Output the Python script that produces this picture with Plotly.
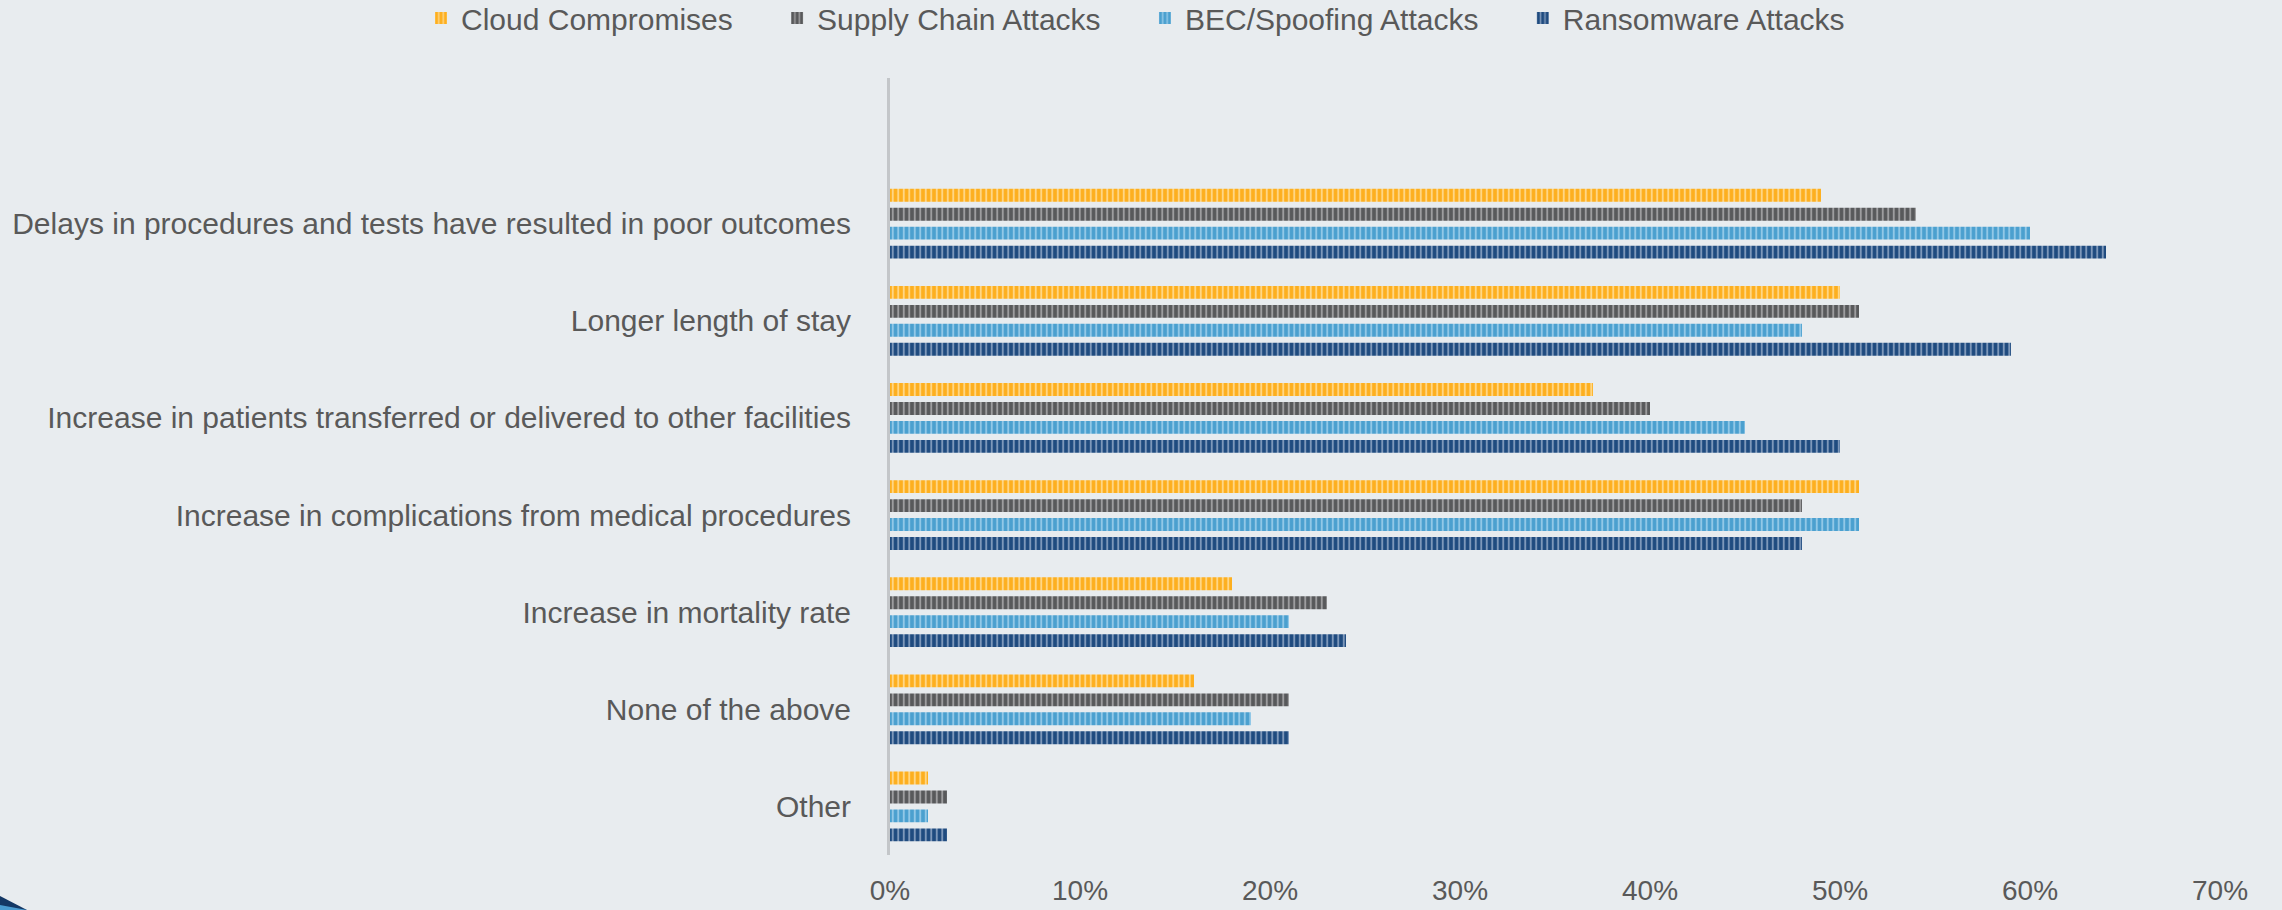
import plotly.graph_objects as go

categories = [
    "Delays in procedures and tests have resulted in poor outcomes",
    "Longer length of stay",
    "Increase in patients transferred or delivered to other facilities",
    "Increase in complications from medical procedures",
    "Increase in mortality rate",
    "None of the above",
    "Other",
]
cloud = [49, 50, 37, 51, 18, 16, 2]
supply = [54, 51, 40, 48, 23, 21, 3]
bec = [60, 48, 45, 51, 21, 19, 2]
ransom = [64, 59, 50, 48, 24, 21, 3]

x_ticks = [0, 10, 20, 30, 40, 50, 60, 70]
x_tick_labels = ["0%", "10%", "20%", "30%", "40%", "50%", "60%", "70%"]

W, H = 2282, 910
ML, MR, MT, MB = 890, 62, 78, 55

PAD = "\u00a0\u00a0\u00a0\u00a0\u2009"  # extra spacing between legend entries

series = [
    ("Ransomware Attacks", ransom, "#1F4B7F", "#7E98BA"),
    ("BEC/Spoofing Attacks", bec, "#4BA0CF", "#92C8E7"),
    ("Supply Chain Attacks", supply, "#58595B", "#9D9D9F"),
    ("Cloud Compromises", cloud, "#FDAF1F", "#FFD685"),
]

fig = go.Figure()
for name, vals, bg, fg in series:
    fig.add_trace(go.Bar(
        y=categories, x=vals, name=name + PAD, orientation="h",
        marker=dict(
            color=bg, line=dict(width=0),
            pattern=dict(shape="|", size=5.5, solidity=0.35,
                         fgcolor=fg, bgcolor=bg, fillmode="replace"),
        ),
    ))

font_col = "#595959"
bgc = "#E8ECEF"

def px(x):
    return (x - ML) / (W - ML - MR)
def py(y):
    return (H - MB - y) / (H - MT - MB)

# small decorative corner swoosh (bottom-left)
shapes = [
    dict(type="path", xref="paper", yref="paper",
         path=f"M {px(0)},{py(896)} L {px(27)},{py(910)} L {px(0)},{py(910)} Z",
         fillcolor="#143865", line=dict(width=0), layer="above"),
    dict(type="path", xref="paper", yref="paper",
         path=f"M {px(0)},{py(905)} L {px(27)},{py(910)} L {px(0)},{py(910)} Z",
         fillcolor="#4A9BD0", line=dict(width=0), layer="above"),
]

fig.update_layout(
    width=W, height=H,
    margin=dict(l=ML, r=MR, t=MT, b=MB, pad=0, autoexpand=False),
    paper_bgcolor=bgc, plot_bgcolor=bgc,
    barmode="group", bargap=0.22, bargroupgap=0.32,
    font=dict(family="Liberation Sans, Arial, sans-serif", size=30, color=font_col),
    showlegend=True,
    legend=dict(orientation="h", traceorder="reversed",
                xref="paper", yref="paper",
                x=px(421), xanchor="left", y=py(-8), yanchor="top",
                font=dict(size=30, color=font_col),
                itemwidth=30, bgcolor="rgba(0,0,0,0)"),
    shapes=shapes,
    xaxis=dict(range=[0, 70], tickvals=x_ticks, ticktext=x_tick_labels,
               showgrid=False, zeroline=False, showline=False,
               ticks="", ticklabelstandoff=16, automargin=False,
               tickfont=dict(size=28, color=font_col), fixedrange=True),
    yaxis=dict(type="category", categoryorder="array",
               categoryarray=list(reversed(categories)),
               range=[-0.5, 7.5], showgrid=False, zeroline=False,
               showline=True, linecolor="#C3C6C9", linewidth=3,
               ticks="", ticklabelstandoff=30, automargin=False,
               tickfont=dict(size=30, color=font_col), fixedrange=True),
)

fig.write_html(
    "out.html",
    config={"displayModeBar": False},
    post_script="document.body.style.margin='0';document.body.style.overflow='hidden';",
)
